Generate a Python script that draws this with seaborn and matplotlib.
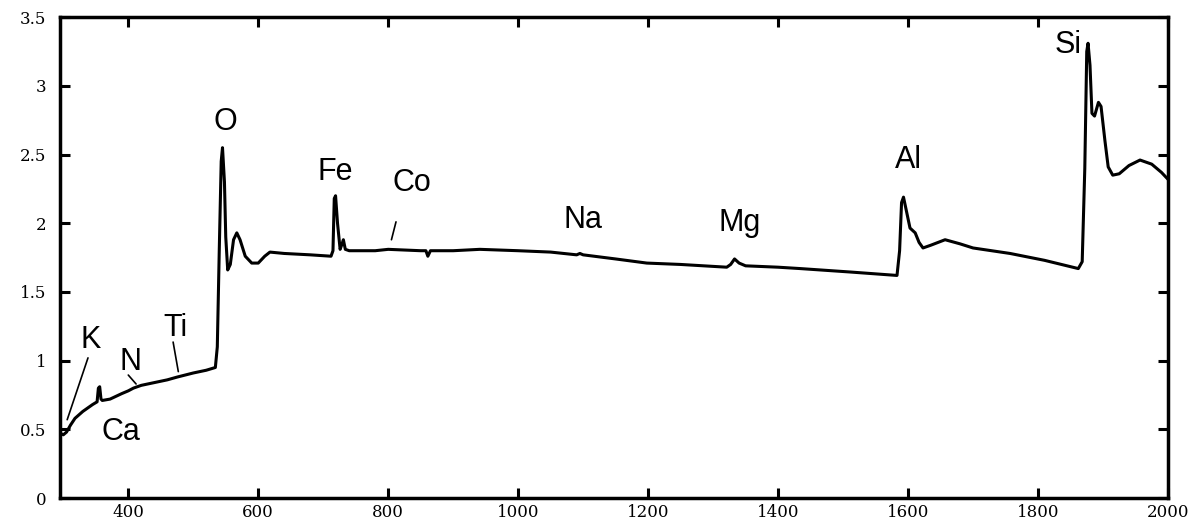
import numpy as np
import pandas as pd
import matplotlib
matplotlib.use("Agg")
import matplotlib.pyplot as plt
import seaborn as sns
from matplotlib.ticker import FuncFormatter

# spectrum
energy = [296, 300, 305, 311, 318, 330, 345, 352, 354, 356, 358, 360, 372, 390, 400, 408,
          420, 440, 460, 475, 500, 520, 534, 537, 540, 543, 545, 548, 550, 553, 557, 562,
          567, 572, 580, 590, 600, 610, 618, 640, 680, 712, 715, 717, 719, 722, 726, 729,
          731, 734, 740, 780, 800, 850, 858, 861, 865, 900, 941, 1000, 1050, 1090, 1095,
          1100, 1150, 1198, 1250, 1321, 1327, 1333, 1340, 1350, 1400, 1434, 1511, 1583,
          1587, 1590, 1593, 1597, 1603, 1611, 1617, 1623, 1635, 1657, 1680, 1700, 1757,
          1810, 1862, 1868, 1872, 1875, 1877, 1880, 1883, 1887, 1893, 1897, 1903, 1908,
          1915, 1925, 1940, 1957, 1975, 1990, 2000]
signal = [0.47, 0.46, 0.48, 0.53, 0.58, 0.63, 0.68, 0.70, 0.80, 0.81, 0.72, 0.71, 0.72,
          0.76, 0.78, 0.80, 0.82, 0.84, 0.86, 0.88, 0.91, 0.93, 0.95, 1.10, 1.80, 2.45,
          2.55, 2.30, 1.90, 1.66, 1.70, 1.88, 1.93, 1.88, 1.76, 1.71, 1.71, 1.76, 1.79,
          1.78, 1.77, 1.76, 1.80, 2.18, 2.20, 2.00, 1.81, 1.85, 1.88, 1.81, 1.80, 1.80,
          1.81, 1.80, 1.80, 1.76, 1.80, 1.80, 1.81, 1.80, 1.79, 1.77, 1.78, 1.77, 1.74,
          1.71, 1.70, 1.68, 1.70, 1.74, 1.71, 1.69, 1.68, 1.67, 1.645, 1.62, 1.80, 2.15,
          2.19, 2.10, 1.965, 1.93, 1.86, 1.82, 1.84, 1.88, 1.85, 1.82, 1.78, 1.73, 1.67,
          1.72, 2.40, 3.25, 3.31, 3.15, 2.80, 2.78, 2.88, 2.85, 2.60, 2.41, 2.35, 2.36,
          2.42, 2.46, 2.43, 2.37, 2.32]

# element labels and their positions
labels = ["O", "Fe", "Co", "Na", "Mg", "Al", "Si", "K", "N", "Ti", "Ca"]
label_x = [549, 718, 836, 1100, 1341, 1600, 1846, 342, 403, 472, 388]
label_y = [2.74, 2.37, 2.29, 2.02, 2.00, 2.46, 3.30, 1.15, 0.99, 1.24, 0.48]
leaders = {
    "Co": ((812, 2.01), (805, 1.88)),
    "K": ((338, 1.02), (306, 0.57)),
    "N": ((400, 0.895), (412, 0.83)),
    "Ti": ((469, 1.135), (477, 0.92)),
}

df = pd.DataFrame({"energy": energy, "signal": signal})

sns.set_style("ticks")
plt.rcParams["font.family"] = ["Liberation Sans", "DejaVu Sans"]

fig = plt.figure(figsize=(12.01, 5.2), dpi=100)
ax = fig.add_axes([0.05, 0.0423, 0.9225, 0.9247])

sns.lineplot(data=df, x="energy", y="signal", color="black", linewidth=2.2, ax=ax)

for lab, lx, ly in zip(labels, label_x, label_y):
    ax.text(lx, ly, lab, fontsize=22, ha="center", va="center", color="black")
for a, b in leaders.values():
    ax.plot([a[0], b[0]], [a[1], b[1]], color="black", linewidth=1.2)

ax.set_xlim(295, 2000)
ax.set_ylim(0, 3.5)
ax.set_xticks([400, 600, 800, 1000, 1200, 1400, 1600, 1800, 2000])
ax.set_yticks([0, 0.5, 1, 1.5, 2, 2.5, 3, 3.5])
ax.yaxis.set_major_formatter(FuncFormatter(lambda v, p: f"{v:g}"))
ax.set_xlabel("")
ax.set_ylabel("")

for s in ax.spines.values():
    s.set_visible(True)
    s.set_linewidth(2.5)
    s.set_color("black")
ax.tick_params(direction="in", length=7, width=2.2, top=True, right=True,
               labelsize=12, color="black", labelcolor="black")
ax.tick_params(axis="y", pad=10)
ax.tick_params(axis="x", pad=4)
for t in ax.get_xticklabels() + ax.get_yticklabels():
    t.set_family(["DejaVu Serif"])

fig.savefig("out.png", dpi=100)
